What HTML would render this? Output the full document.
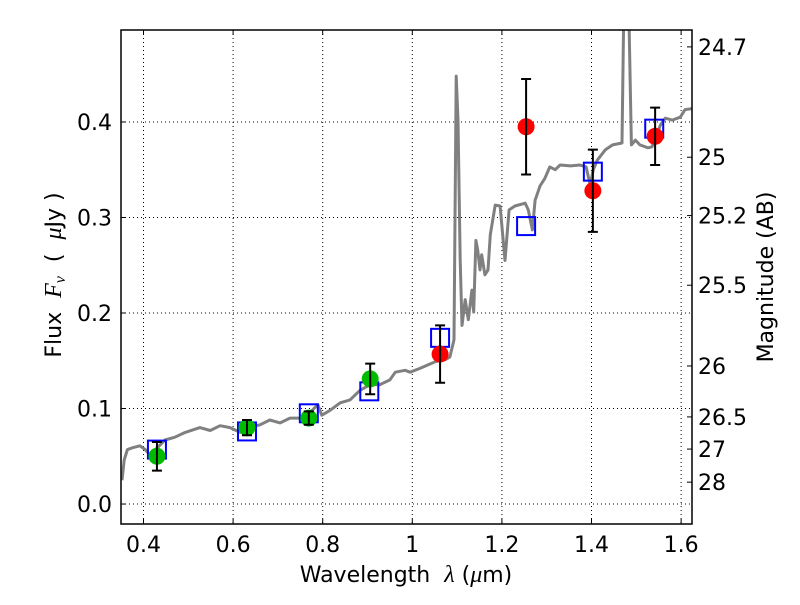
<!DOCTYPE html>
<html><head><meta charset="utf-8"><style>
body{margin:0;background:#fff}
svg text{font-family:"DejaVu Sans","Liberation Sans",sans-serif;font-size:22px;fill:#000;white-space:pre}
</style></head><body>
<svg id="chart" width="800" height="600" xmlns="http://www.w3.org/2000/svg"></svg>
<script>
const xTicks=[0.4,0.6,0.8,1.0,1.2,1.4,1.6];
const xTickLabels=["0.4","0.6","0.8","1","1.2","1.4","1.6"];
const yTicks=[0.0,0.1,0.2,0.3,0.4];
const yTickLabels=["0.0","0.1","0.2","0.3","0.4"];
const magTicks=[24.7,25,25.2,25.5,26,26.5,27,28];
const magTickLabels=["24.7","25","25.2","25.5","26","26.5","27","28"];
const specWl=[0.352,0.357,0.364,0.376,0.392,0.404,0.415,0.431,0.448,0.470,0.493,0.526,0.549,0.571,0.593,0.616,0.634,0.660,0.682,0.705,0.727,0.749,0.772,0.789,0.798,0.816,0.839,0.861,0.883,0.906,0.928,0.950,0.962,0.984,0.995,1.017,1.051,1.073,1.084,1.093,1.098,1.102,1.107,1.111,1.118,1.125,1.133,1.137,1.142,1.146,1.151,1.155,1.162,1.169,1.174,1.185,1.196,1.207,1.216,1.229,1.252,1.259,1.268,1.274,1.285,1.296,1.307,1.319,1.330,1.353,1.374,1.388,1.397,1.404,1.413,1.431,1.447,1.468,1.473,1.482,1.489,1.498,1.508,1.526,1.535,1.554,1.565,1.580,1.598,1.609,1.625];
const specFlux=[0.025,0.046,0.057,0.059,0.061,0.057,0.051,0.059,0.067,0.070,0.075,0.080,0.077,0.082,0.080,0.075,0.080,0.083,0.088,0.085,0.090,0.090,0.096,0.104,0.093,0.098,0.106,0.109,0.119,0.125,0.125,0.130,0.138,0.140,0.138,0.142,0.149,0.151,0.154,0.172,0.448,0.402,0.255,0.187,0.214,0.193,0.224,0.201,0.276,0.266,0.245,0.261,0.240,0.245,0.282,0.313,0.312,0.255,0.308,0.312,0.315,0.308,0.287,0.318,0.333,0.341,0.353,0.350,0.355,0.354,0.355,0.353,0.334,0.350,0.360,0.371,0.376,0.378,0.550,0.550,0.376,0.381,0.376,0.373,0.374,0.397,0.404,0.402,0.405,0.413,0.414];
const ptWl=[0.430,0.631,0.769,0.906];
const ptFlux=[0.050,0.080,0.090,0.131];
const ptErr=[0.015,0.008,0.007,0.016];
const redWl=[1.062,1.254,1.403,1.542];
const redFlux=[0.157,0.395,0.328,0.385];
const redErr=[0.030,0.050,0.043,0.030];
const boxWl=[0.430,0.631,0.769,0.904,1.062,1.254,1.403,1.540];
const boxFlux=[0.057,0.076,0.095,0.118,0.174,0.291,0.348,0.393];

const NS="http://www.w3.org/2000/svg";
const svg=document.getElementById('chart');
const L=121,R=692,T=30,B=524;
const X0=0.3498,X1=1.6243,Y0=-0.0209,Y1=0.4963;
function sx(v){return L+(v-X0)/(X1-X0)*(R-L);}
function sy(v){return B-(v-Y0)/(Y1-Y0)*(B-T);}
function magToFlux(m){return Math.pow(10,(23.9-m)/2.5);}
function mk(tag,attrs,parent){const e=document.createElementNS(NS,tag);for(const k in attrs)e.setAttribute(k,attrs[k]);(parent||svg).appendChild(e);return e;}

const defs=mk('defs',{});
const cp=mk('clipPath',{id:'clip'},defs);
mk('rect',{x:L,y:T,width:R-L,height:B-T},cp);

xTicks.forEach(v=>{const g=mk('line',{x1:sx(v),x2:sx(v),y1:T,y2:B,stroke:'#000','stroke-width':1,'stroke-dasharray':'1,3'});

});
yTicks.forEach(v=>{const g=mk('line',{x1:L,x2:R,y1:sy(v),y2:sy(v),stroke:'#000','stroke-width':1,'stroke-dasharray':'1,3'});

});

const plot=mk('g',{'clip-path':'url(#clip)'});


const d=specWl.map((w,i)=>(i?'L':'M')+sx(w).toFixed(1)+','+sy(specFlux[i]).toFixed(1)).join(' ');
const sp=mk('path',{d:d,fill:'none',stroke:'#808080','stroke-width':3,'stroke-linejoin':'round'},plot);



boxWl.forEach((w,i)=>{const b=mk('rect',{x:sx(w)-9,y:sy(boxFlux[i])-9,width:18,height:18,fill:'none',stroke:'#0000ff','stroke-width':2},plot);

});

function pts(wl,fl,er,color,name){
 wl.forEach((w,i)=>{
  const c=mk('circle',{cx:sx(w),cy:sy(fl[i]),r:8.5,fill:color},plot);
  
  
  const x=sx(w),y1=sy(fl[i]+er[i]),y2=sy(fl[i]-er[i]);
  const e=mk('path',{d:`M${x},${y1}L${x},${y2}M${x-5},${y1}L${x+5},${y1}M${x-5},${y2}L${x+5},${y2}`,stroke:'#000','stroke-width':2,fill:'none'},plot);
  
  
 });
}
pts(ptWl,ptFlux,ptErr,'#00bb00','observed-flux-green');
pts(redWl,redFlux,redErr,'#ff0000','observed-flux-red');

const fr=mk('rect',{x:L,y:T,width:R-L,height:B-T,fill:'none',stroke:'#000','stroke-width':1.5});



xTicks.forEach((v,i)=>{const x=sx(v);
 mk('line',{x1:x,x2:x,y1:B,y2:B-5,stroke:'#000'});
 mk('line',{x1:x,x2:x,y1:T,y2:T+5,stroke:'#000'});
 const t=mk('text',{x:x,y:552,'text-anchor':'middle'});t.textContent=xTickLabels[i];
 
 });
yTicks.forEach((v,i)=>{const y=sy(v);
 mk('line',{x1:L,x2:L+5,y1:y,y2:y,stroke:'#000'});
 const t=mk('text',{x:112,y:y+8,'text-anchor':'end'});t.textContent=yTickLabels[i];
 
 });
magTicks.forEach((m,i)=>{const y=sy(magToFlux(m));
 mk('line',{x1:R,x2:R-5,y1:y,y2:y,stroke:'#000'});
 const t=mk('text',{x:698,y:y+8,'text-anchor':'start'});t.textContent=magTickLabels[i];
 
 });

let t=mk('text',{x:406,y:582,'text-anchor':'middle'});
t.innerHTML='Wavelength  <tspan font-family="Liberation Serif" font-style="italic" font-size="24">λ</tspan> (<tspan font-family="Liberation Serif" font-style="italic" font-size="24">μ</tspan>m)';


t=mk('text',{x:0,y:0,'text-anchor':'middle',transform:'translate(61,275) rotate(-90)'});
t.innerHTML='Flux  <tspan font-family="Liberation Serif" font-style="italic" font-size="24">F</tspan><tspan font-family="Liberation Serif" font-style="italic" font-size="16" dy="4">ν</tspan><tspan dy="-4">  (  </tspan><tspan font-family="Liberation Serif" font-style="italic" font-size="24">μ</tspan>Jy )';


t=mk('text',{x:0,y:0,'text-anchor':'middle',transform:'translate(773,277) rotate(-90)'});
t.textContent='Magnitude (AB)';


</script>
</body></html>
